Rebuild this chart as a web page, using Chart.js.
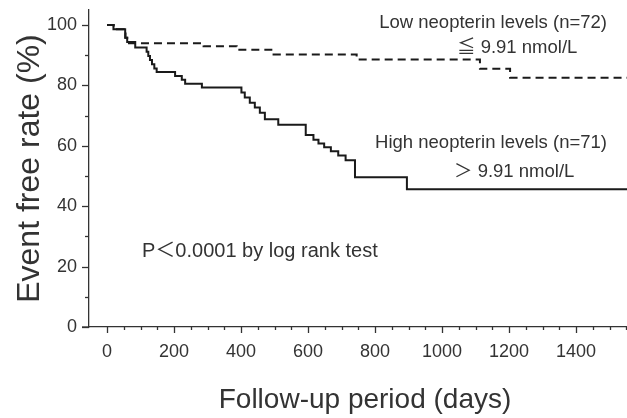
<!DOCTYPE html>
<html>
<head>
<meta charset="utf-8">
<script src="https://cdn.jsdelivr.net/npm/chart.js@4/dist/chart.umd.min.js"></script>
<style>
html,body{margin:0;padding:0;background:#fff;}
canvas{display:block;}
</style>
</head>
<body>
<canvas id="c" width="627" height="418"></canvas>
<script>
// ---- data (Kaplan-Meier steps) ----
const highDays   = [0, 19, 54, 60, 84, 118, 123, 128, 134, 141, 148, 203, 223, 233, 283, 401, 411, 426, 441, 456, 471, 511, 593, 616, 631, 648, 668, 690, 712, 740, 895, 1560];
const highValues = [100, 98.6, 95.8, 94.4, 92.6, 91.2, 89.8, 88.4, 87.0, 85.6, 84.5, 83.1, 81.9, 80.6, 79.3, 77.7, 76.0, 74.3, 72.7, 71.0, 68.8, 67.0, 63.6, 62.0, 60.8, 59.5, 58.2, 56.8, 55.2, 49.6, 45.6, 45.6];
const lowDays    = [0, 20, 50, 55, 60, 288, 387, 497, 745, 1113, 1203, 1560];
const lowValues  = [100, 98.6, 97.2, 95.8, 94.0, 93.0, 91.8, 90.3, 88.6, 85.5, 82.6, 82.6];
const xTickValues = [0,50,100,150,200,250,300,350,400,450,500,550,600,650,700,750,800,850,900,950,1000,1050,1100,1150,1200,1250,1300,1350,1400,1450,1500,1550];
const yTickValues = [0,10,20,30,40,50,60,70,80,90,100];
const xTitle = 'Follow-up period (days)';
const yTitle = 'Event free rate (%)';
const lowLabel1 = 'Low neopterin levels (n=72)';
const lowLabel2 = '\u2266 9.91 nmol/L';
const highLabel1 = 'High neopterin levels (n=71)';
const highLabel2 = '\uFF1E 9.91 nmol/L';
const pText = 'P\uFF1C0.0001 by log rank test';

const FONT = '"Liberation Sans", Arial, "Noto Sans CJK JP", sans-serif';
const TXT = '#333';
const INK = '#1a1a1a';

const toPts = (xs, ys) => xs.map((x, i) => ({x: x, y: ys[i]}));

const tickPlugin = {
  id: 'tickPlugin',
  afterDraw(chart) {
    const ctx = chart.ctx;
    const xs = chart.scales.x, ys = chart.scales.y;
    const bottom = ys.getPixelForValue(0);
    const left = xs.left;
    ctx.save();
    ctx.strokeStyle = '#333';
    ctx.lineWidth = 1.3;
    ctx.beginPath();
    ctx.moveTo(left - 7, bottom);
    ctx.lineTo(left, bottom);
    ctx.stroke();
    xTickValues.forEach(v => {
      const px = Math.round(xs.getPixelForValue(v)) + 0.5;
      const len = (v % 200 === 0) ? 6 : 3;
      ctx.beginPath();
      ctx.moveTo(px, bottom);
      ctx.lineTo(px, bottom + len);
      ctx.stroke();
    });
    yTickValues.forEach(v => {
      const py = Math.round(ys.getPixelForValue(v)) + 0.5;
      const len = (v % 20 === 0) ? 7 : 4;
      ctx.beginPath();
      ctx.moveTo(left, py);
      ctx.lineTo(left - len, py);
      ctx.stroke();
    });
    ctx.fillStyle = TXT;
    ctx.textBaseline = 'middle';
    // x-axis title
    ctx.font = '28px ' + FONT;
    ctx.textAlign = 'center';
    ctx.fillText(xTitle, 365, 400);
    // annotations
    ctx.font = '18.5px ' + FONT;
    ctx.textAlign = 'right';
    ctx.fillText(lowLabel1, 607, 23);
    ctx.fillText(highLabel1, 607, 143);
    ctx.textAlign = 'left';
    ctx.fillText(lowLabel2, 457, 48);
    ctx.fillText(highLabel2, 454, 172);
    ctx.font = '20px ' + FONT;
    ctx.fillText(pText, 142, 251);
    ctx.restore();
  }
};

new Chart(document.getElementById('c'), {
  type: 'line',
  data: {
    datasets: [
      {
        label: 'Low',
        data: toPts(lowDays, lowValues),
        stepped: 'before',
        borderColor: INK,
        borderWidth: 2,
        borderDash: [8, 5],
        pointRadius: 0,
        fill: false
      },
      {
        label: 'High',
        data: toPts(highDays, highValues),
        stepped: 'before',
        borderColor: INK,
        borderWidth: 2,
        pointRadius: 0,
        fill: false
      }
    ]
  },
  options: {
    responsive: false,
    animation: false,
    devicePixelRatio: 1,
    layout: {padding: {top: 10, right: 0, left: 0, bottom: 0}},
    plugins: {legend: {display: false}, tooltip: {enabled: false}},
    scales: {
      x: {
        type: 'linear',
        min: -54,
        max: 1552,
        afterBuildTicks: s => { s.ticks = xTickValues.map(v => ({value: v})); },
        afterFit: s => { s.height = 91; s.paddingLeft = 0; s.paddingRight = 0; },
        ticks: {
          autoSkip: false,
          maxRotation: 0,
          padding: 6,
          color: TXT,
          font: {family: FONT, size: 18},
          callback: v => (v % 200 === 0 ? String(v) : '')
        },
        grid: {display: true, drawOnChartArea: false, drawTicks: true, tickLength: 8, tickColor: 'rgba(0,0,0,0)'},
        border: {display: true, color: '#333', width: 1.3},
        title: {display: false}
      },
      y: {
        type: 'linear',
        min: 0,
        max: 105,
        afterBuildTicks: s => { s.ticks = yTickValues.map(v => ({value: v})); },
        afterFit: s => { s.width = 89; s.paddingTop = 0; s.paddingBottom = 0; },
        ticks: {
          autoSkip: false,
          padding: 4,
          color: TXT,
          font: {family: FONT, size: 18},
          callback: v => (v % 20 === 0 ? String(v) : '')
        },
        grid: {display: true, drawOnChartArea: false, drawTicks: true, tickLength: 8, tickColor: 'rgba(0,0,0,0)'},
        border: {display: true, color: '#333', width: 1.3},
        title: {display: true, text: yTitle, color: TXT, font: {family: FONT, size: 32}, padding: {top: 11, bottom: 0}}
      }
    }
  },
  plugins: [tickPlugin]
});
</script>
</body>
</html>
